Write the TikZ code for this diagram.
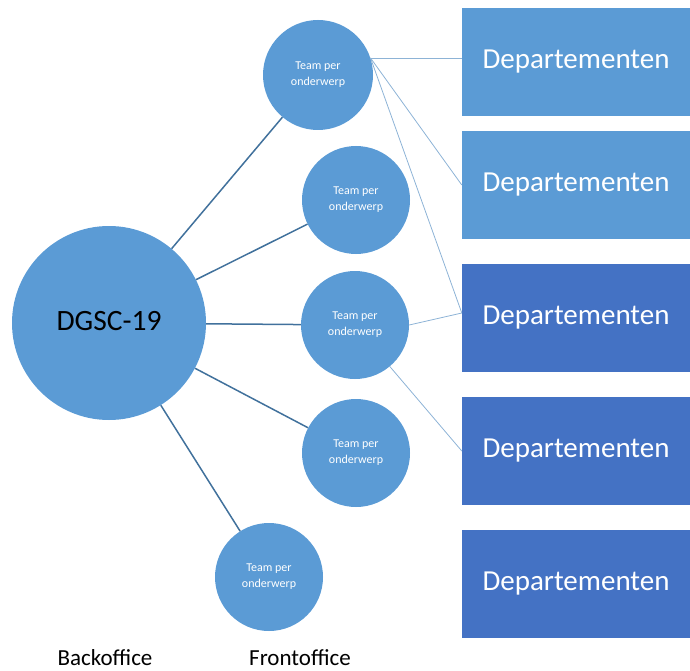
\documentclass[tikz,border=0pt]{standalone}
\usepackage{fontspec}
\setmainfont{Carlito}
\usetikzlibrary{positioning}
\definecolor{lightblue}{HTML}{5B9BD5}
\definecolor{darkblue}{HTML}{4472C4}
\definecolor{linkblue}{HTML}{41719C}
\definecolor{thinblue}{HTML}{8DB3D6}
\begin{document}
\begin{tikzpicture}[x=1pt, y=-1pt,
    team/.style = {circle, fill=lightblue, minimum size=108pt, inner sep=0pt, text=white, font=\fontsize{12}{16}\selectfont, align=center},
    dept/.style = {rectangle, minimum width=228pt, minimum height=108pt, inner sep=0pt, text=white, font=\fontsize{29}{33}\selectfont},
    link/.style = {draw=linkblue, line width=1.5pt},
    thin/.style = {draw=thinblue, line width=0.8pt}]
    \useasboundingbox (0,0) rectangle (690,671);

    \node[circle, fill=lightblue, minimum size=194pt, inner sep=0pt, font=\fontsize{29.5}{33}\selectfont] (dgsc) at (109,323) {\raisebox{5pt}{DGSC-19}};

    \node[team, minimum size=110pt] (1) at (318,75) {Team per\\onderwerp};
    \node[team] (2) at (356,200) {Team per\\onderwerp};
    \node[team] (3) at (355,325) {Team per\\onderwerp};
    \node[team] (4) at (356,453) {Team per\\onderwerp};
    \node[team] (5) at (269,577) {Team per\\onderwerp};

    \node[dept, fill=lightblue] (d1) at (576,62) {Departementen};
    \node[dept, fill=lightblue] (d2) at (576,185) {Departementen};
    \node[dept, fill=darkblue] (d3) at (576,318) {Departementen};
    \node[dept, fill=darkblue] (d4) at (576,451) {Departementen};
    \node[dept, fill=darkblue] (d5) at (576,584) {Departementen};

    \path[link] (dgsc) -- (1);
    \path[link] (dgsc) -- (2);
    \path[link] (dgsc) -- (3);
    \path[link] (dgsc) -- (4);
    \path[link] (dgsc) -- (5);

    \coordinate (c1) at (1.18);
    \path[thin] (c1) -- (d1.west |- c1);
    \path[thin] (c1) -- (d2.west);
    \path[thin] (c1) -- ([yshift=5pt]d3.west);
    \path[thin] (3.east) -- ([yshift=5pt]d3.west);
    \path[thin] (3.-50) -- (d4.west);

    \node[font=\fontsize{23}{26}\selectfont] (back) at (105,658) {Backoffice};
    \node[font=\fontsize{23}{26}\selectfont] (front) at (300,658) {Frontoffice};
\end{tikzpicture}
\end{document}
